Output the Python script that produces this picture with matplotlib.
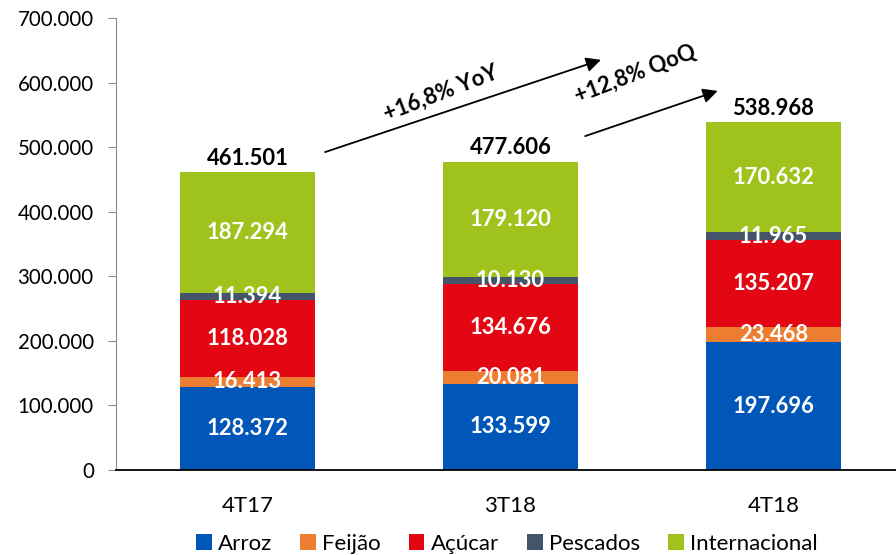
import matplotlib.pyplot as plt
import numpy as np

plt.rcParams['font.family'] = ['Lato', 'DejaVu Sans']

# data
periods = ['4T17', '3T18', '4T18']
arroz = [128372, 133599, 197696]
feijao = [16413, 20081, 23468]
acucar = [118028, 134676, 135207]
pescados = [11394, 10130, 11965]
internacional = [187294, 179120, 170632]
totals = [461501, 477606, 538968]

series = [('Arroz', arroz, '#0057B8'),
          ('Feijão', feijao, '#ED7D31'),
          ('Açúcar', acucar, '#E30613'),
          ('Pescados', pescados, '#44546A'),
          ('Internacional', internacional, '#9FC31C')]


def fmt(v):
    return '{:,}'.format(int(v)).replace(',', '.')


fig = plt.figure(figsize=(8.96, 5.55), dpi=100)
ax = fig.add_axes([116 / 896, 85 / 555, 780 / 896, 452 / 555])

x = np.arange(len(periods))
bottom = np.zeros(len(periods))
for name, vals, col in series:
    vals = np.array(vals, dtype=float)
    ax.bar(x, vals, 0.513, bottom=bottom, color=col, label=name, zorder=2)
    for xi, b, v in zip(x, bottom, vals):
        ax.text(xi, b + v / 2, fmt(v), ha='center', va='center', color='white',
                fontsize=15.8, fontweight='bold', zorder=3)
    bottom += vals

for xi, t in zip(x, totals):
    ax.text(xi, t + 5000, fmt(t), ha='center', va='bottom', color='black',
            fontsize=15.8, fontweight='bold')

# growth arrows
ax.annotate('', xy=(1.354, 636500), xytext=(0.285, 491000),
            arrowprops=dict(arrowstyle='-|>', color='black', lw=1.3, mutation_scale=22))
ax.annotate('', xy=(1.798, 588500), xytext=(1.274, 515700),
            arrowprops=dict(arrowstyle='-|>', color='black', lw=1.3, mutation_scale=22))
ax.text(0.734, 584000, '+16,8% YoY', rotation=21, ha='center', va='center',
        fontsize=15.8, fontweight='bold')
ax.text(1.475, 614000, '+12,8% QoQ', rotation=21, ha='center', va='center',
        fontsize=15.8, fontweight='bold')

ax.set_xlim(-0.5, 2.466)
ax.set_ylim(0, 700000)
ax.set_yticks(np.arange(0, 700001, 100000))
ax.set_yticklabels([fmt(v) for v in np.arange(0, 700001, 100000)], fontsize=14.8)
ax.set_xticks(x)
ax.set_xticklabels(periods, fontsize=16)
ax.tick_params(axis='x', length=0, pad=19)
ax.tick_params(axis='y', length=6, color='#8c8c8c', pad=10)
ax.spines['top'].set_visible(False)
ax.spines['right'].set_visible(False)
ax.spines['left'].set_color('#8c8c8c')
ax.spines['bottom'].set_color('black')
ax.spines['bottom'].set_linewidth(1.3)

ax.legend(loc='center', bbox_to_anchor=(391 / 780, -74 / 452), ncol=5, frameon=False,
          fontsize=16, handlelength=0.7, handleheight=0.7, handletextpad=0.3,
          columnspacing=1.25)

plt.savefig('out.png', dpi=100)
